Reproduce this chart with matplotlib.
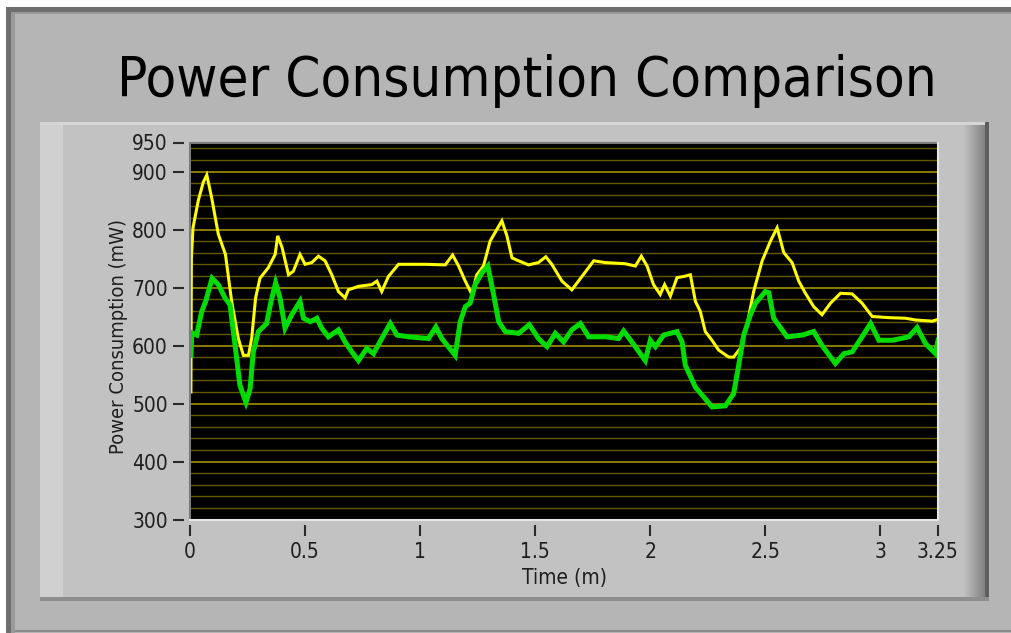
import matplotlib
matplotlib.use('Agg')
import matplotlib.pyplot as plt
from matplotlib.patches import Rectangle
from matplotlib.lines import Line2D
from matplotlib import font_manager
from matplotlib.font_manager import FontProperties

W, H = 1011, 633

# ---------------- data ----------------
time_yellow = [0.004, 0.006, 0.013, 0.036, 0.058, 0.073, 0.094, 0.123, 0.154, 0.181,
               0.210, 0.232, 0.254, 0.268, 0.285, 0.304, 0.340, 0.370, 0.381, 0.400,
               0.428, 0.449, 0.478, 0.500, 0.529, 0.558, 0.587, 0.616, 0.645, 0.674,
               0.688, 0.732, 0.790, 0.812, 0.833, 0.862, 0.906, 0.949, 1.022, 1.109,
               1.141, 1.167, 1.196, 1.225, 1.246, 1.275, 1.304, 1.355, 1.377, 1.399,
               1.428, 1.471, 1.514, 1.546, 1.572, 1.616, 1.659, 1.703, 1.754, 1.804,
               1.891, 1.935, 1.961, 1.986, 2.014, 2.043, 2.062, 2.087, 2.116, 2.145,
               2.174, 2.196, 2.217, 2.239, 2.268, 2.297, 2.341, 2.362, 2.391, 2.420,
               2.449, 2.486, 2.522, 2.551, 2.580, 2.616, 2.645, 2.674, 2.710, 2.746,
               2.783, 2.826, 2.877, 2.920, 2.964, 3.036, 3.109, 3.152, 3.225, 3.250]
power_yellow = [520, 750, 803, 850, 882, 894, 855, 792, 757, 676,
                612, 583, 583, 612, 682, 716, 734, 757, 789, 769,
                722, 728, 757, 740, 743, 754, 746, 722, 693, 682,
                696, 702, 705, 711, 693, 719, 740, 740, 740, 739,
                756, 737, 711, 688, 722, 737, 780, 815, 789, 751,
                746, 739, 743, 753, 740, 711, 696, 719, 746, 743,
                741, 737, 754, 737, 705, 688, 705, 685, 717, 719,
                722, 676, 659, 624, 609, 592, 580, 580, 595, 635,
                693, 746, 780, 803, 760, 743, 711, 690, 667, 653,
                673, 690, 689, 673, 650, 648, 647, 644, 642, 645]

time_green = [0.004, 0.008, 0.029, 0.051, 0.068, 0.096, 0.123, 0.152, 0.174, 0.196,
              0.217, 0.243, 0.261, 0.275, 0.297, 0.333, 0.352, 0.372, 0.391, 0.413,
              0.442, 0.478, 0.493, 0.522, 0.551, 0.572, 0.601, 0.645, 0.674, 0.703,
              0.732, 0.768, 0.797, 0.833, 0.870, 0.899, 0.949, 1.036, 1.068, 1.094,
              1.152, 1.174, 1.196, 1.217, 1.239, 1.268, 1.294, 1.319, 1.341, 1.370,
              1.428, 1.474, 1.514, 1.551, 1.587, 1.623, 1.659, 1.696, 1.732, 1.804,
              1.862, 1.884, 1.920, 1.978, 2.000, 2.022, 2.058, 2.116, 2.138, 2.152,
              2.196, 2.239, 2.268, 2.326, 2.362, 2.384, 2.406, 2.435, 2.457, 2.500,
              2.515, 2.536, 2.558, 2.594, 2.659, 2.710, 2.746, 2.804, 2.841, 2.877,
              2.920, 2.957, 2.993, 3.051, 3.123, 3.159, 3.196, 3.239, 3.250]
power_green = [583, 622, 618, 659, 676, 716, 705, 682, 670, 600,
               531, 502, 525, 589, 624, 638, 676, 708, 682, 630,
               653, 676, 647, 641, 647, 630, 615, 627, 606, 589,
               574, 595, 586, 612, 638, 618, 615, 612, 632, 612,
               583, 641, 667, 673, 705, 725, 737, 688, 641, 624,
               621, 636, 612, 598, 621, 606, 627, 638, 615, 615,
               612, 625, 606, 574, 609, 598, 618, 624, 606, 566,
               528, 508, 494, 496, 517, 566, 618, 653, 673, 693,
               691, 647, 635, 615, 618, 624, 600, 569, 586, 589,
               615, 638, 609, 609, 615, 631, 603, 586, 609]

x_ticks = [0, 0.5, 1, 1.5, 2, 2.5, 3, 3.25]
x_tick_labels = ['0', '0.5', '1', '1.5', '2', '2.5', '3', '3.25']
y_ticks = [300, 400, 500, 600, 700, 800, 900, 950]
y_tick_labels = ['300', '400', '500', '600', '700', '800', '900', '950']
y_minor_ticks = list(range(300, 950, 20))

title_text = 'Power Consumption Comparison'
x_label = 'Time (m)'
y_label = 'Power Consumption (mW)'

# ---------------- fonts ----------------
cond = [f.fname for f in font_manager.fontManager.ttflist
        if f.fname.endswith('DejaVuSansCondensed.ttf')]
if cond:
    def fp(size):
        return FontProperties(fname=cond[0], size=size)
else:
    def fp(size):
        return FontProperties(family='Noto Sans', size=size)

# ---------------- figure & frame ----------------
fig = plt.figure(figsize=(W / 100, H / 100), dpi=100)
fig.patch.set_facecolor('#b5b5b5')


def prect(x0, y0, x1, y1, color, z=0):
    fig.add_artist(Rectangle((x0 / W, 1 - y1 / H), (x1 - x0) / W, (y1 - y0) / H,
                             transform=fig.transFigure, facecolor=color,
                             edgecolor='none', zorder=z))

# white screenshot margins
prect(0, 0, W, 7, '#ffffff')
prect(0, 0, 6, H, '#ffffff')
# outer dark edges
prect(6, 7, W, 12, '#6e6e6e')
prect(6, 12, W, 14, '#9a9a9a')
prect(6, 7, 11, H, '#6e6e6e')
prect(11, 12, 15, H, '#9a9a9a')
prect(15, 630, W, 632, '#8a8a8a')
# inner panel
prect(40, 122, 987, 601, '#c2c2c2')
prect(40, 122, 987, 125, '#d6d6d6')
prect(40, 125, 63, 598, '#d0d0d0')
grad = ['#c0c0c0', '#bababa', '#b4b4b4', '#aeaeae', '#a8a8a8', '#a2a2a2',
        '#9c9c9c', '#969696', '#909090', '#8a8a8a', '#848484', '#7e7e7e']
for i, c in enumerate(grad):
    prect(963 + 2 * i, 125, 965 + 2 * i, 601, c)
prect(985, 122, 989, 601, '#5e5e5e')
prect(40, 597, 989, 601, '#8e8e8e')

# ---------------- axes ----------------
ax = fig.add_axes([190 / W, 1 - 519.5 / H, (938 - 190) / W, (519.5 - 142.5) / H])
ax.set_facecolor('#000000')
ax.set_xlim(0, 3.25)
ax.set_ylim(300, 950)

ax.plot(time_yellow, power_yellow, color='#ffff00', lw=2.2, solid_joinstyle='miter', zorder=3)
ax.plot(time_green, power_green, color='#00dc00', lw=3.6, solid_joinstyle='miter', zorder=4)

ax.set_xticks(x_ticks)
ax.set_xticklabels(x_tick_labels)
ax.set_yticks(y_ticks)
ax.set_yticklabels(y_tick_labels)
ax.set_yticks(y_minor_ticks, minor=True)
ax.grid(True, which='major', axis='y', color='#a29200', lw=1.2, zorder=1)
ax.grid(True, which='minor', axis='y', color='#625800', lw=1.0, zorder=1)
ax.grid(False, axis='x')
ax.set_axisbelow(True)

for s in ax.spines.values():
    s.set_visible(False)
ax.spines['left'].set_position(('outward', 4))
ax.spines['bottom'].set_position(('outward', 4))

ax.tick_params(axis='both', which='major', direction='out', length=8, width=1.5,
               color='#2a2a2a', labelcolor='#1e1e1e')
ax.tick_params(axis='y', which='major', pad=4)
ax.tick_params(axis='x', which='major', pad=4)
ax.tick_params(axis='y', which='minor', length=0)
for lab in ax.get_xticklabels() + ax.get_yticklabels():
    lab.set_fontproperties(fp(15))

# sunken border of the plot area
ax.add_line(Line2D([0, 0, 1], [0, 1, 1], transform=ax.transAxes, color='#7a7a7a',
                   lw=1.5, clip_on=False, zorder=5))
ax.add_line(Line2D([0, 1, 1], [0, 0, 1], transform=ax.transAxes, color='#e6e6e6',
                   lw=1.5, clip_on=False, zorder=5))

# ---------------- texts ----------------
fig.text(526.5 / W, 1 - 96.5 / H, title_text, ha='center', va='baseline',
         color='#000000', fontproperties=fp(40.3))
fig.text(118 / W, 1 - 337 / H, y_label, ha='center', va='center', rotation=90,
         color='#1e1e1e', fontproperties=fp(14.5))
fig.text(565 / W, 1 - 578 / H, x_label, ha='center', va='center',
         color='#1e1e1e', fontproperties=fp(15))

fig.savefig('out.png', dpi=100, facecolor=fig.get_facecolor())
